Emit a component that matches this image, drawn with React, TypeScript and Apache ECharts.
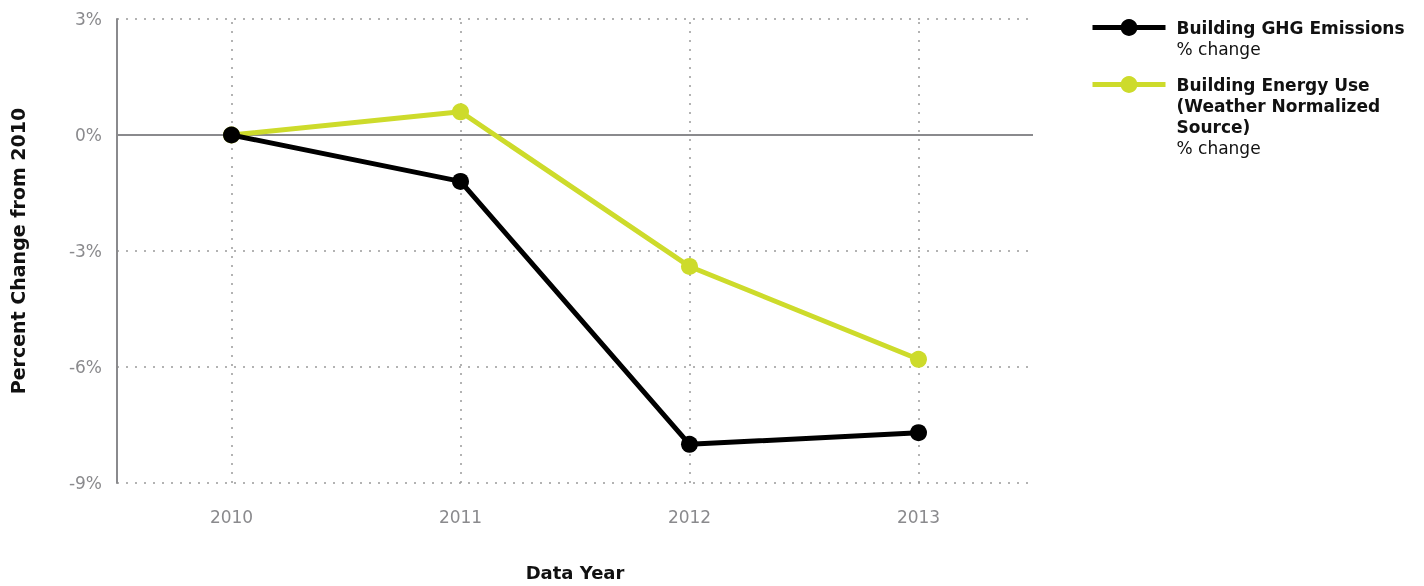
import React, { useEffect, useRef } from "react";
import * as echarts from "echarts";

const years = ["2010", "2011", "2012", "2013"];
const ghgEmissions = [0, -1.2, -8.0, -7.7];
const energyUse = [0, 0.6, -3.4, -5.8];
const ghgName = "Building GHG Emissions";
const energyName = "Building Energy Use (Weather Normalized Source)";
const yMin = -9;
const yMax = 3;
const yStep = 3;

const FONT = "DejaVu Sans";
const GREEN = "#cddb2b";
const GRID_GREY = "#9a9a9a";
const AXIS_GREY = "#8a8a8d";

export default function App() {
  const ref = useRef<HTMLDivElement>(null);
  useEffect(() => {
    if (!ref.current) return;
    const chart = echarts.init(ref.current, undefined, { renderer: "svg" });
    const legendRich = {
      b: { fontFamily: FONT, fontSize: 17, fontWeight: "bold", color: "#111", lineHeight: 21 },
      n: { fontFamily: FONT, fontSize: 17, fontWeight: "normal", color: "#111", lineHeight: 21 },
    };
    chart.setOption({
      animation: false,
      textStyle: { fontFamily: FONT },
      grid: { left: 115, right: 391, top: 19, bottom: 100 },
      legend: [
        {
          left: 1090,
          top: 19,
          padding: 0,
          itemWidth: 73,
          itemHeight: 21,
          selectedMode: false,
          lineStyle: { width: 5 },
          data: [{ name: ghgName, textStyle: { padding: [21, 0, 0, 6] } }],
          formatter: () => "{b|Building GHG Emissions}\n{n|% change}",
          textStyle: { rich: legendRich },
        },
        {
          left: 1090,
          top: 76,
          padding: 0,
          itemWidth: 73,
          itemHeight: 21,
          selectedMode: false,
          lineStyle: { width: 5 },
          data: [{ name: energyName, textStyle: { padding: [63, 0, 0, 6] } }],
          formatter: () =>
            "{b|Building Energy Use}\n{b|(Weather Normalized}\n{b|Source)}\n{n|% change}",
          textStyle: { rich: legendRich },
        },
      ],
      xAxis: {
        type: "category",
        data: years,
        boundaryGap: true,
        name: "Data Year",
        nameLocation: "middle",
        nameGap: 80,
        nameTextStyle: { fontFamily: FONT, fontSize: 18, fontWeight: "bold", color: "#111", verticalAlign: "top" },
        axisLine: { show: false },
        axisTick: { show: false },
        axisLabel: { margin: 25, fontSize: 17, color: AXIS_GREY, fontFamily: FONT },
        splitLine: { show: false },
      },
      yAxis: {
        type: "value",
        min: yMin,
        max: yMax,
        interval: yStep,
        name: "Percent Change from 2010",
        nameLocation: "middle",
        nameRotate: 90,
        nameGap: 90,
        nameTextStyle: { fontFamily: FONT, fontSize: 19, fontWeight: "bold", color: "#111" },
        axisLine: { show: true, lineStyle: { color: AXIS_GREY, width: 2 } },
        axisTick: { show: false },
        axisLabel: { margin: 15, fontSize: 17, color: AXIS_GREY, fontFamily: FONT, formatter: "{value}%" },
        splitLine: { show: true, lineStyle: { color: GRID_GREY, width: 1.5, type: [2, 7] } },
      },
      series: [
        {
          name: ghgName,
          type: "line",
          data: ghgEmissions,
          z: 4,
          symbol: "circle",
          symbolSize: 17,
          lineStyle: { color: "#000", width: 5 },
          itemStyle: { color: "#000" },
          markLine: {
            silent: true,
            symbol: "none",
            z: 1,
            label: { show: false },
            data: [
              ...years.map((y) => ({ xAxis: y, lineStyle: { color: GRID_GREY, width: 1.5, type: [2, 7] } })),
              { yAxis: 0, lineStyle: { color: AXIS_GREY, width: 2, type: "solid" } },
            ],
          },
        },
        {
          name: energyName,
          type: "line",
          data: energyUse,
          z: 3,
          symbol: "circle",
          symbolSize: 17,
          lineStyle: { color: GREEN, width: 5 },
          itemStyle: { color: GREEN },
        },
      ],
    });
    return () => chart.dispose();
  }, []);
  return (
    <div
      ref={ref}
      style={{ position: "fixed", left: 0, top: 0, width: 1424, height: 586 }}
    />
  );
}
